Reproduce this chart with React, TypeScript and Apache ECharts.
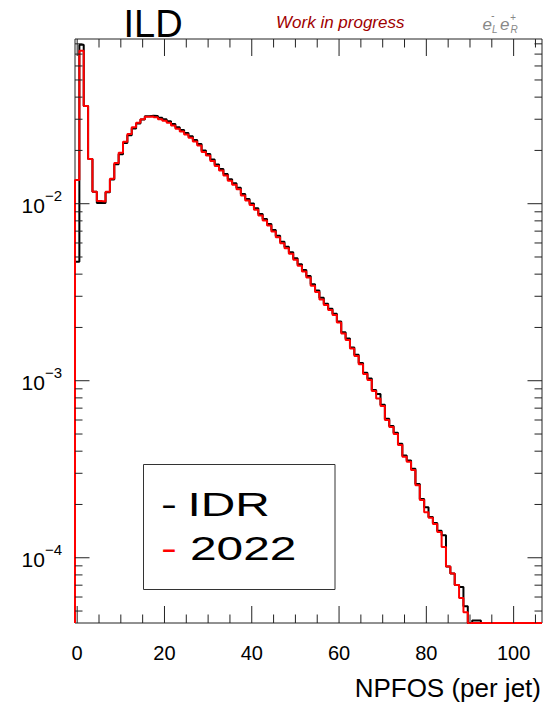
import { useEffect, useRef } from "react";
import * as echarts from "echarts";

// Axis ranges (x: NPFOS bins centred on integers, y: log scale)
const X_MIN = -0.5;
const X_MAX = 106.5;
const Y_MIN = 4.28e-5;
const Y_MAX = 0.0852;

const X_LABELS = [0, 20, 40, 60, 80, 100];
const X_MINOR_STEP = 5;
const Y_LABEL_EXPONENTS = [-4, -3, -2];
const Y_MINOR_MULTIPLIERS = [2, 3, 4, 5, 6, 7, 8, 9];

// Normalised NPFOS per jet, one entry per bin starting at NPFOS = 0
const idrValues = [
  0.0047, 0.079, 0.0356, 0.0179, 0.0117, 0.0101, 0.0101, 0.0116, 0.0137, 0.0167,
  0.019, 0.022, 0.0244, 0.0266, 0.0284, 0.0299, 0.0312, 0.0314, 0.0313, 0.03057,
  0.03002, 0.02925, 0.0282, 0.02705, 0.02609, 0.02509, 0.02404, 0.02291, 0.02175, 0.01998,
  0.01909, 0.01778, 0.01666, 0.01571, 0.01472, 0.01374, 0.01305, 0.01232, 0.01134, 0.01063,
  0.01003, 0.00942, 0.00875, 0.0082, 0.00768, 0.00711, 0.0066, 0.0061, 0.00572, 0.00531,
  0.00492, 0.00455, 0.00422, 0.00391, 0.00351, 0.00323, 0.00294, 0.00272, 0.00255, 0.00239,
  0.00216, 0.00188, 0.00173, 0.00154, 0.0014, 0.00126, 0.00111, 0.00103, 0.000887, 0.000841,
  0.000731, 0.000609, 0.000555, 0.000508, 0.00044, 0.000378, 0.000354, 0.000318, 0.000261, 0.000215,
  0.000193, 0.00017, 0.000157, 0.000142, 0.000134, 0.0000892, 0.0000814, 0.0000701, 0.0000683, 0.0000533,
  0, 0.0000442, 0.0000442,
];

const v2022Values = [
  0.0136, 0.0731, 0.0356, 0.0179, 0.0117, 0.01037, 0.0103, 0.01167, 0.01384, 0.017,
  0.0194, 0.0224, 0.0248, 0.027, 0.0287, 0.03, 0.031, 0.0311, 0.0308, 0.02997,
  0.02943, 0.02868, 0.02765, 0.02652, 0.02558, 0.0246, 0.02357, 0.02246, 0.02132, 0.01959,
  0.01872, 0.01743, 0.01633, 0.0154, 0.01443, 0.01347, 0.01279, 0.01208, 0.01112, 0.01042,
  0.00983, 0.00924, 0.00858, 0.00804, 0.00753, 0.00697, 0.00647, 0.00598, 0.00561, 0.00521,
  0.00482, 0.00446, 0.00414, 0.00383, 0.00344, 0.00317, 0.00288, 0.00268, 0.00251, 0.00235,
  0.00213, 0.00185, 0.0017, 0.00152, 0.00138, 0.00124, 0.00109, 0.00101, 0.000874, 0.000793,
  0.00072, 0.0006, 0.000547, 0.0005, 0.000433, 0.000372, 0.000349, 0.000313, 0.000257, 0.000212,
  0.000181, 0.000168, 0.000155, 0.00014, 0.000115, 0.0000892, 0.0000814, 0.0000701, 0.0000592, 0.0000493,
];

const FONT = '"Liberation Sans", Arial, Helvetica, sans-serif';
const FRAME = "#222";

// Histogram outline: horizontal segment per bin, empty bins sit on the axis floor
function stepPoints(values: number[]): [number, number][] {
  const nBins = Math.round(X_MAX - X_MIN);
  const pts: [number, number][] = [[X_MIN, Y_MIN]];
  for (let i = 0; i < nBins; i++) {
    const v = i < values.length ? values[i] : 0;
    const y = v > Y_MIN ? v : Y_MIN;
    const lo = X_MIN + i;
    pts.push([lo, y], [lo + 1, y]);
  }
  return pts;
}

function xTickData() {
  const out: number[][] = [];
  for (let v = 0; v < X_MAX; v += X_MINOR_STEP) {
    out.push([v, Y_MIN, X_LABELS.includes(v) ? 1 : 0]);
  }
  return out;
}

function yTickData() {
  const out: number[][] = [];
  for (let e = -5; e <= -1; e++) {
    const base = Math.pow(10, e);
    [1, ...Y_MINOR_MULTIPLIERS].forEach((m) => {
      const v = m * base;
      if (v > Y_MIN && v < Y_MAX) out.push([X_MIN, v, m === 1 ? 1 : 0]);
    });
  }
  return out;
}

export default function App() {
  const ref = useRef<HTMLDivElement>(null);

  useEffect(() => {
    if (!ref.current) return;
    const chart = echarts.init(ref.current, undefined, { renderer: "svg" });
    const lineStyle = { stroke: FRAME, lineWidth: 1 };

    chart.setOption({
      animation: false,
      backgroundColor: "#fff",
      grid: {
        left: 75,
        top: 39,
        width: 467,
        height: 584,
        show: true,
        borderColor: FRAME,
        borderWidth: 1,
        backgroundColor: "transparent",
      },
      xAxis: {
        type: "value",
        min: X_MIN,
        max: X_MAX,
        axisLine: { show: false },
        axisTick: { show: false },
        splitLine: { show: false },
        axisLabel: {
          margin: 20,
          fontSize: 20,
          fontFamily: FONT,
          color: "#000",
          formatter: (v: number) => (X_LABELS.includes(v) ? String(v) : ""),
        },
      },
      yAxis: {
        type: "log",
        logBase: 10,
        min: Y_MIN,
        max: Y_MAX,
        axisLine: { show: false },
        axisTick: { show: false },
        splitLine: { show: false },
        axisLabel: {
          margin: 13,
          padding: [0, 0, 4, 0],
          formatter: (v: number) => {
            const e = Math.log10(v);
            const r = Math.round(e);
            if (Math.abs(e - r) > 1e-6 || !Y_LABEL_EXPONENTS.includes(r)) return "";
            return `{b|10}{s|\u2212${-r}}`;
          },
          rich: {
            b: { fontSize: 21, fontFamily: FONT, color: "#000", lineHeight: 28, verticalAlign: "bottom" },
            s: { fontSize: 15, fontFamily: FONT, color: "#000", lineHeight: 15, verticalAlign: "top" },
          },
        },
      },
      series: [
        {
          name: "IDR",
          type: "line",
          data: stepPoints(idrValues),
          showSymbol: false,
          clip: false,
          silent: true,
          lineStyle: { color: "#000", width: 2 },
          itemStyle: { color: "#000" },
          z: 3,
        },
        {
          name: "2022",
          type: "line",
          data: stepPoints(v2022Values),
          showSymbol: false,
          clip: false,
          silent: true,
          lineStyle: { color: "#ff0000", width: 2 },
          itemStyle: { color: "#ff0000" },
          z: 4,
        },
        {
          type: "custom",
          silent: true,
          clip: false,
          z: 5,
          encode: { x: 0, y: 1 },
          data: xTickData(),
          renderItem: (params: any, api: any) => {
            const cs = params.coordSys;
            const x = api.coord([api.value(0), Y_MIN])[0];
            const len = api.value(2) ? 17 : 8.5;
            const bottom = cs.y + cs.height;
            return {
              type: "group",
              children: [
                { type: "line", shape: { x1: x, y1: bottom, x2: x, y2: bottom - len }, style: lineStyle },
                { type: "line", shape: { x1: x, y1: cs.y, x2: x, y2: cs.y + len }, style: lineStyle },
              ],
            };
          },
        },
        {
          type: "custom",
          silent: true,
          clip: false,
          z: 5,
          encode: { x: 0, y: 1 },
          data: yTickData(),
          renderItem: (params: any, api: any) => {
            const cs = params.coordSys;
            const y = api.coord([X_MIN, api.value(1)])[1];
            const len = api.value(2) ? 14.5 : 7.5;
            const right = cs.x + cs.width;
            return {
              type: "group",
              children: [
                { type: "line", shape: { x1: cs.x, y1: y, x2: cs.x + len, y2: y }, style: lineStyle },
                { type: "line", shape: { x1: right, y1: y, x2: right - len, y2: y }, style: lineStyle },
              ],
            };
          },
        },
      ],
      graphic: [
        {
          type: "text",
          x: 123.5,
          y: 24.2,
          style: { text: "ILD", fontSize: 38, fontFamily: FONT, fill: "#000", textAlign: "left", verticalAlign: "middle" },
        },
        {
          type: "text",
          x: 276,
          y: 22.5,
          style: {
            text: "Work in progress",
            fontSize: 17,
            fontStyle: "italic",
            fontFamily: FONT,
            fill: "#a00000",
            textAlign: "left",
            verticalAlign: "middle",
          },
        },
        { type: "text", x: 482.5, y: 24, style: { text: "e", fontSize: 17, fontStyle: "italic", fontFamily: FONT, fill: "#888", verticalAlign: "middle" } },
        { type: "text", x: 491, y: 15.5, style: { text: "-", fontSize: 10, fontStyle: "italic", fontFamily: FONT, fill: "#888", verticalAlign: "middle" } },
        { type: "text", x: 492, y: 29, style: { text: "L", fontSize: 10, fontStyle: "italic", fontFamily: FONT, fill: "#888", verticalAlign: "middle" } },
        { type: "text", x: 500, y: 24, style: { text: "e", fontSize: 17, fontStyle: "italic", fontFamily: FONT, fill: "#888", verticalAlign: "middle" } },
        { type: "text", x: 510, y: 17.5, style: { text: "+", fontSize: 10, fontStyle: "italic", fontFamily: FONT, fill: "#888", verticalAlign: "middle" } },
        { type: "text", x: 510.5, y: 29, style: { text: "R", fontSize: 10, fontStyle: "italic", fontFamily: FONT, fill: "#888", verticalAlign: "middle" } },
        {
          type: "text",
          x: 541,
          y: 688,
          style: { text: "NPFOS (per jet)", fontSize: 26, fontFamily: FONT, fill: "#000", textAlign: "right", verticalAlign: "middle" },
        },
        {
          type: "rect",
          z: 100,
          shape: { x: 143.5, y: 464.5, width: 191.5, height: 125 },
          style: { fill: "#fff", stroke: "#333", lineWidth: 1 },
        },
        {
          type: "text",
          z: 101,
          x: 161,
          y: 505.2,
          scaleX: 1.45,
          style: { text: "-", fontSize: 33, fontFamily: FONT, fill: "#000", verticalAlign: "middle" },
        },
        {
          type: "text",
          z: 101,
          x: 187.5,
          y: 505.2,
          scaleX: 1.45,
          style: { text: "IDR", fontSize: 33, fontFamily: FONT, fill: "#000", verticalAlign: "middle" },
        },
        {
          type: "text",
          z: 101,
          x: 161,
          y: 548.5,
          scaleX: 1.45,
          style: { text: "-", fontSize: 33, fontFamily: FONT, fill: "#ff0000", verticalAlign: "middle" },
        },
        {
          type: "text",
          z: 101,
          x: 190,
          y: 548.5,
          scaleX: 1.45,
          style: { text: "2022", fontSize: 33, fontFamily: FONT, fill: "#000", verticalAlign: "middle" },
        },
      ],
    });

    return () => chart.dispose();
  }, []);

  return (
    <div
      ref={ref}
      style={{ position: "fixed", left: 0, top: 0, width: 545, height: 702, background: "#fff" }}
    />
  );
}
